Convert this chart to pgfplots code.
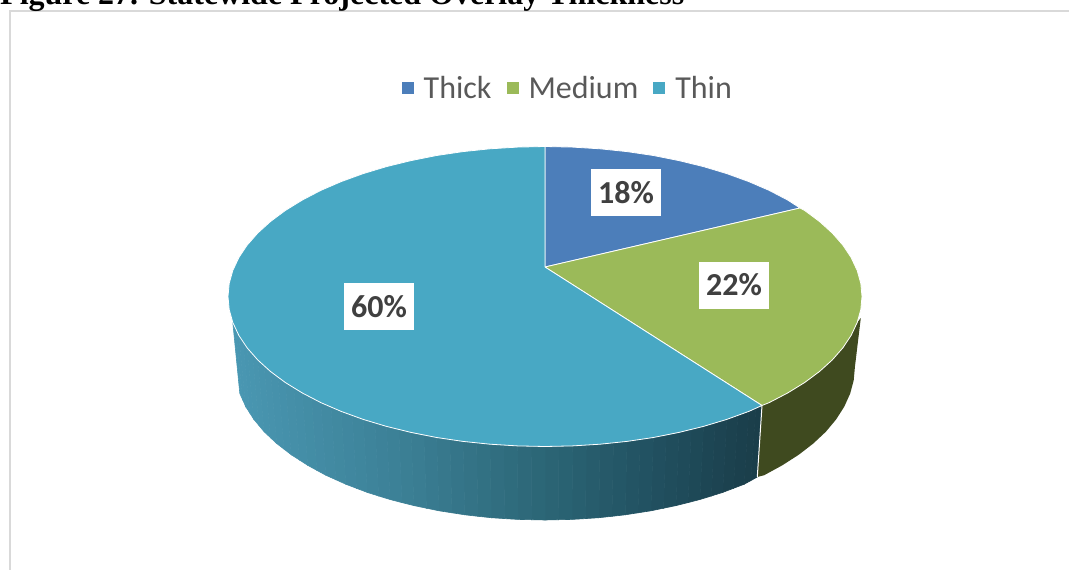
\documentclass[border=0pt]{standalone}
\usepackage{pgfplots}
\pgfplotsset{compat=1.18}
\usepackage{fontspec}
\setmainfont{Carlito}
\newfontfamily\titlefont{Liberation Serif}
\definecolor{thickc}{HTML}{4C7EBA}
\definecolor{mediumc}{HTML}{9BBA59}
\definecolor{thinc}{HTML}{48A8C4}
\definecolor{medside}{HTML}{3F4A1F}
\definecolor{legtext}{HTML}{595959}
\definecolor{labtext}{HTML}{404040}
\definecolor{framec}{HTML}{D9D9D9}
\pgfplotsset{
  colormap={sidefade}{
    rgb255(0cm)=(74,152,179)
    rgb255(32cm)=(60,128,150)
    rgb255(60cm)=(43,101,117)
    rgb255(80cm)=(33,80,96)
    rgb255(100cm)=(26,61,73)
  },
}
\begin{document}
\begin{tikzpicture}
\path[use as bounding box] (0,0) rectangle (1069pt,570pt);
\clip (0,0) rectangle (1069pt,570pt);
\begin{axis}[
  at={(0,0)}, anchor=south west,
  scale only axis, width=1069pt, height=570pt,
  xmin=0, xmax=1069, ymin=0, ymax=570, y dir=reverse,
  hide axis, clip=false,
  colormap name=sidefade,
  point meta min=230, point meta max=760,
  legend style={at={(axis cs:398.5,88)}, anchor=west, draw=none, fill=none,
    font=\fontsize{32}{34}\selectfont\color{legtext},
    legend columns=-1,
    /tikz/every odd column/.append style={column sep=8pt},
    /tikz/every even column/.append style={column sep=13pt}},
  legend image code/.code={\path[#1,draw=none] (0pt,-6pt) rectangle (12pt,6pt);},
]
% outer frame of the chart area
\addplot[framec, line width=1.3pt, forget plot] coordinates {(10,570) (10,11) (1069,11)};

% extruded wall under the Thin slice, shaded from left to right
\addplot[surf, shader=faceted, faceted color=mapped color, line width=0.6pt,
  mesh/rows=2, point meta=x, forget plot] table {
x y
763 404
755.9 407.7
748.8 411.4
737.8 415.4
726.8 419.4
715.2 422.9
703.5 426.4
691.3 429.4
679 432.4
666.2 435
653.4 437.5
640.2 439.5
627 441.4
613.5 442.8
600 444.2
586.3 445.1
572.6 445.9
558.8 446.2
545 446.5
531.2 446.2
517.4 445.9
503.7 445.1
490 444.2
476.5 442.8
463 441.4
449.8 439.5
436.6 437.5
423.8 435
411 432.4
398.8 429.4
386.5 426.4
374.9 422.9
363.2 419.4
352.2 415.4
341.2 411.4
331 407
320.8 402.6
311.5 397.8
302.2 392.9
293.8 387.7
285.3 382.5
277.9 377
270.5 371.5
264.1 365.7
257.7 359.9
252.4 353.9
247.1 347.8
243 341.6
238.8 335.3
235.8 328.9
232.8 322.5
757.3 477
750.8 480.6
744.2 484.2
733.5 488.3
722.7 492.4
711.3 496
699.9 499.5
688 502.6
676 505.6
663.5 508.2
650.9 510.8
638 512.8
625.2 514.8
612 516.3
598.8 517.7
585.4 518.6
572 519.4
558.5 519.7
545 520
531.5 519.7
518 519.4
504.6 518.6
491.2 517.7
478 516.3
464.8 514.8
452 512.8
439.1 510.8
426.5 508.2
414 505.6
402 502.6
390.1 499.5
378.7 496
367.3 492.4
356.5 488.3
345.8 484.2
335.8 479.7
325.8 475.2
316.8 470.3
307.7 465.3
299.5 460
291.2 454.7
284 449.1
276.7 443.5
270.4 437.6
264.1 431.7
259 425.5
253.8 419.3
249.8 413
245.7 406.6
242.8 400
239.8 393.5
};

% extruded wall under the Medium slice
\addplot[fill=medside, draw=none, forget plot] coordinates {
(860.8,318) (857.2,322.5) (851.2,335.3) (842.9,347.8) (832.3,359.9) (819.5,371.5)
(804.7,382.5) (787.8,392.9) (769.2,402.6) (762,405.5)
(757.3,477) (764.2,475.2) (782.3,465.3) (798.8,454.7) (813.3,443.5) (825.9,431.7)
(836.2,419.3) (844.3,406.6) (850.2,393.5) (853.7,380.4) (854.9,367) (860.8,318)
};
\addplot[white, line width=1pt, forget plot] coordinates {(762,405.5) (757.3,477)};

% top face: Thick, Medium, Thin
\addplot[fill=thickc, draw=white, line width=0.8pt, line join=round] coordinates {
(545,267) (545,146.5) (572.6,147.1) (600,148.8) (627,151.6) (653.4,155.5) (679,160.6)
(703.5,166.6) (726.8,173.6) (748.8,181.6) (769.2,190.4) (787.8,200.1) (800,208) (545,267)
};
\addlegendentry{Thick}
\addplot[fill=mediumc, draw=white, line width=0.8pt, line join=round] coordinates {
(545,267) (800,208) (804.7,210.5) (819.5,221.5) (832.3,233.1) (842.9,245.2) (851.2,257.7)
(857.2,270.5) (860.8,283.4) (862,296.5) (860.8,309.6) (857.2,322.5) (851.2,335.3)
(842.9,347.8) (832.3,359.9) (819.5,371.5) (804.7,382.5) (787.8,392.9) (769.2,402.6)
(762,405.5) (545,267)
};
\addlegendentry{Medium}
\addplot[fill=thinc, draw=white, line width=0.8pt, line join=round] coordinates {
(545,267) (762,405.5) (748.8,411.4) (726.8,419.4) (703.5,426.4) (679,432.4) (653.4,437.5)
(627,441.4) (600,444.2) (572.6,445.9) (545,446.5) (517.4,445.9) (490,444.2) (463,441.4)
(436.6,437.5) (411,432.4) (386.5,426.4) (363.2,419.4) (341.2,411.4) (320.8,402.6)
(302.2,392.9) (285.3,382.5) (270.5,371.5) (257.7,359.9) (247.1,347.8) (238.8,335.3)
(232.8,322.5) (229.2,309.6) (228,296.5) (229.2,283.4) (232.8,270.5) (238.8,257.7)
(247.1,245.2) (257.7,233.1) (270.5,221.5) (285.3,210.5) (302.2,200.1) (320.8,190.4)
(341.2,181.6) (363.2,173.6) (386.5,166.6) (411,160.6) (436.6,155.5) (463,151.6)
(490,148.8) (517.4,147.1) (545,146.5) (545,267)
};
\addlegendentry{Thin}

% percentage labels on white boxes
\addplot[only marks, mark=none, forget plot, point meta=explicit symbolic,
  nodes near coords={\pgfplotspointmeta\%},
  nodes near coords style={anchor=center, fill=white, text=labtext, inner sep=0pt,
    minimum width=70pt, minimum height=47pt,
    font=\fontsize{32}{34}\selectfont\bfseries}]
  coordinates {(626,192.5) [18] (734,285) [22] (379,306.5) [60]};

% caption, cut by the top edge of the page
\node[anchor=base west, inner sep=0pt, text=black,
  font=\fontsize{32}{34}\selectfont\titlefont\bfseries]
  at (axis cs:0,5) {Figure 27. Statewide Projected Overlay Thickness};
\end{axis}
\end{tikzpicture}
\end{document}
